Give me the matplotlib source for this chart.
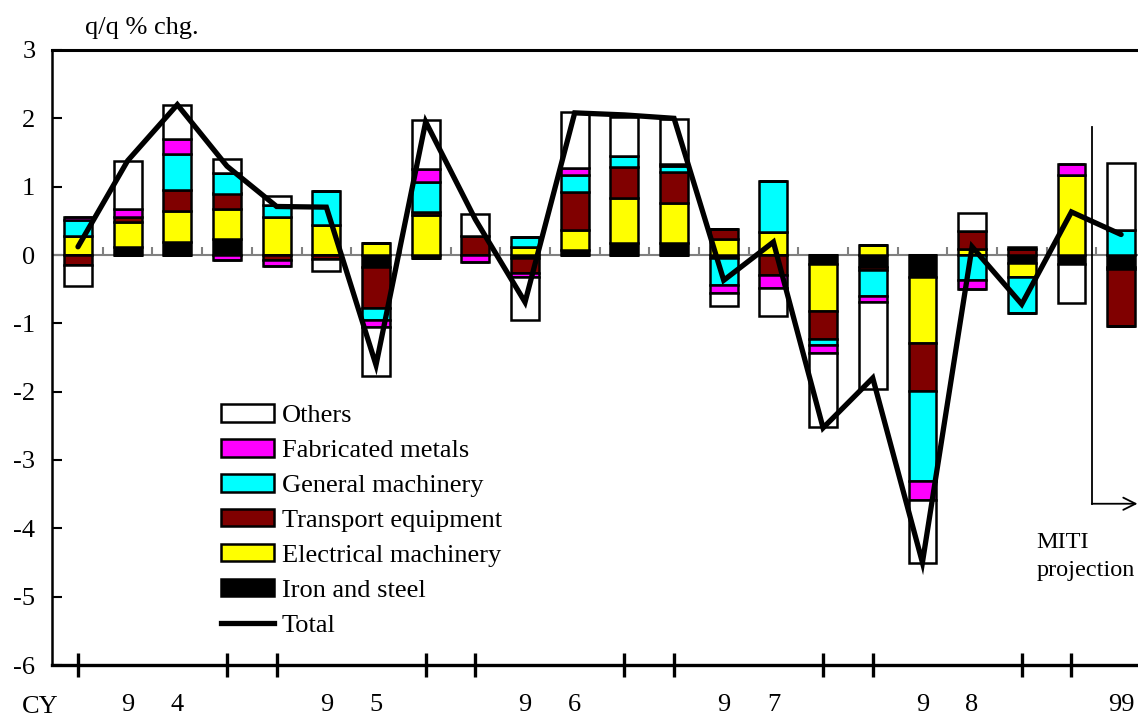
import matplotlib
matplotlib.use("Agg")
import matplotlib.pyplot as plt
import numpy as np
from matplotlib.patches import Patch
from matplotlib.lines import Line2D
from matplotlib.transforms import blended_transform_factory

plt.rcParams['font.family'] = ['Liberation Serif', 'DejaVu Serif']

# ---- data (q/q % chg. contributions) ----
iron = [0, 0.12, 0.195, 0.23, 0, 0, -0.17, -0.04, 0, -0.05, 0.07, 0.17,
        0.17, -0.05, 0, -0.13, -0.17, -0.32, 0, -0.12, -0.13, -0.17]
electrical = [0.28, 0.37, 0.45, 0.45, 0.56, 0.44, 0.17, 0.585, 0, 0.12, 0.29, 0.67,
              0.59, 0.23, 0.34, -0.69, 0.15, -0.97, 0.09, -0.20, 1.17, -0.03]
transport = [-0.14, 0.07, 0.31, 0.22, -0.08, -0.06, -0.61, 0.05, 0.28, -0.22, 0.56, 0.45,
             0.46, 0.15, -0.29, -0.41, -0.05, -0.70, 0.26, 0.09, 0, -0.84]
general = [0.23, 0, 0.53, 0.30, 0.17, 0.49, -0.17, 0.44, 0, 0.15, 0.25, 0.16,
           0.08, -0.39, 0.75, -0.08, -0.38, -1.32, -0.37, -0.53, 0, 0.37]
fabricated = [0.05, 0.12, 0.21, -0.08, -0.08, 0, -0.11, 0.19, -0.10, -0.05, 0.11, 0,
              0.03, -0.12, -0.20, -0.12, -0.09, -0.27, -0.13, 0, 0.16, 0]
others = [-0.32, 0.70, 0.50, 0.20, 0.13, -0.18, -0.71, 0.71, 0.32, -0.63, 0.81, 0.57,
          0.66, -0.19, -0.40, -1.09, -1.27, -0.92, 0.26, 0.03, -0.57, 0.97]
total = [0.12, 1.38, 2.20, 1.30, 0.71, 0.70, -1.61, 1.95, 0.52, -0.69, 2.08, 2.05,
         2.00, -0.37, 0.19, -2.53, -1.80, -4.50, 0.12, -0.72, 0.63, 0.30]

series_names = ["Iron and steel", "Electrical machinery", "Transport equipment",
                "General machinery", "Fabricated metals", "Others"]
series_colors = ["#000000", "#FFFF00", "#800000", "#00FFFF", "#FF00FF", "#FFFFFF"]
series_values = [iron, electrical, transport, general, fabricated, others]

year_label_idx = [1, 2, 5, 6, 9, 10, 13, 14, 17, 18, 21]
year_labels = ["9", "4", "9", "5", "9", "6", "9", "7", "9", "8", "99"]
major_tick_idx = [0, 3, 4, 7, 8, 11, 12, 15, 16, 19, 20]
yticks = [-6, -5, -4, -3, -2, -1, 0, 1, 2, 3]

n = len(total)
x = np.arange(n)

W, H = 1138, 720
fig = plt.figure(figsize=(W / 100, H / 100), dpi=100)
ax = fig.add_axes([52 / W, (H - 665) / H, (1138 - 52) / W, (665 - 50) / H])

pos_bottom = np.zeros(n)
neg_bottom = np.zeros(n)
for vals, col in zip(series_values, series_colors):
    v = np.array(vals, dtype=float)
    pos = np.where(v > 0, v, 0)
    neg = np.where(v < 0, v, 0)
    ax.bar(x, pos, 0.56, bottom=pos_bottom, color=col, edgecolor="black",
           linewidth=1.8, zorder=3)
    ax.bar(x, neg, 0.56, bottom=neg_bottom, color=col, edgecolor="black",
           linewidth=1.8, zorder=3)
    pos_bottom += pos
    neg_bottom += neg

ax.plot(x, total, color="black", linewidth=3.8, zorder=5, solid_capstyle="round",
        solid_joinstyle="miter")

# zero line with small category ticks
ax.axhline(0, color="#808080", linewidth=1.5, zorder=2)
ax.vlines(np.arange(n - 1) + 0.5, 0, 0.12, color="#808080", linewidth=1.5, zorder=2)

ax.set_xlim(-0.523, 21.34)
ax.set_ylim(-6, 3)
ax.set_yticks(yticks)
ax.set_yticklabels([str(t) for t in yticks], fontsize=19)
ax.tick_params(axis="y", direction="in", length=7, width=1.5, pad=12)

ax.set_xticks(major_tick_idx)
ax.set_xticklabels([])
ax.tick_params(axis="x", direction="inout", length=17, width=2.4)

ax.spines["right"].set_visible(False)
ax.spines["left"].set_linewidth(1.8)
ax.spines["top"].set_linewidth(2.2)
ax.spines["bottom"].set_linewidth(2.4)

trans = blended_transform_factory(ax.transData, ax.transAxes)
for i, lab in zip(year_label_idx, year_labels):
    ax.text(i, -0.065, lab, transform=trans, ha="center", va="center", fontsize=19)
fig.text(40 / W, 1 - 707 / H, "CY", ha="center", va="center", fontsize=19)
fig.text(85 / W, 1 - 28 / H, "q/q % chg.", ha="left", va="center", fontsize=19)

# projection marker
xp = 20.41
ax.plot([xp, xp], [1.87, -3.64], color="black", linewidth=1.3, zorder=6)
ax.annotate("", xy=(21.33, -3.64), xytext=(xp, -3.64),
            arrowprops=dict(arrowstyle="->", color="black", lw=1.3,
                            mutation_scale=22, shrinkA=0, shrinkB=0),
            zorder=6, annotation_clip=False)
ax.text(19.30, -4.20, "MITI", ha="left", va="center", fontsize=17.5)
ax.text(19.30, -4.61, "projection", ha="left", va="center", fontsize=17.5)

# legend
handles = []
labels = []
for name, col in reversed(list(zip(series_names, series_colors))):
    handles.append(Patch(facecolor=col, edgecolor="black", linewidth=1.8))
    labels.append(name)
handles.append(Line2D([0], [0], color="black", linewidth=3.8))
labels.append("Total")
leg = fig.legend(handles, labels, loc="upper left",
                 bbox_to_anchor=(221 / W, 1 - 404 / H), frameon=False,
                 fontsize=19, handlelength=2.0, handleheight=0.65,
                 handletextpad=0.3, labelspacing=0.45, borderpad=0,
                 borderaxespad=0)

fig.savefig("out.png", dpi=100)
